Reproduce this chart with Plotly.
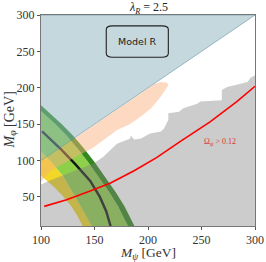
import plotly.graph_objects as go

# ---------------- data ----------------
# blue region: M_phi > M_psi
blue_x = [100, 300, 300, 100]
blue_y = [100, 300, 300, 300]

# peach band just below diagonal
peach_top_x = [100, 150, 200, 206, 212, 218]
peach_top_y = [99, 149, 199, 205, 208, 207]
peach_bot_x = [219, 216, 211, 203, 193, 183, 171, 160, 148, 130, 120, 110, 104, 100]
peach_bot_y = [203, 196, 186, 172, 160, 150, 142, 130, 117, 103, 95, 87, 78, 70]

# gray excluded region (upper boundary)
gray_x = [95, 100, 109, 121, 137, 149, 158, 171, 183, 184, 187, 193, 202, 212, 215, 219, 219,
          229, 233, 246, 249, 263, 269, 269, 274, 280, 288, 293, 296, 300, 305]
gray_y = [66, 67, 73, 80, 90, 96, 105, 123, 130, 134, 129, 130, 137, 140, 144, 156, 165,
          167, 172, 178, 181, 182, 183, 197, 201, 203, 206, 208, 214, 217, 218]

# yellow band edges
r1_x = [96, 100, 106, 112, 120, 128, 134, 139, 141]
r1_y = [84, 79, 72, 64, 52, 38, 24, 10, 4]
r2_x = [96, 100, 110, 121, 130, 139, 148, 150]
r2_y = [119, 113, 97, 78, 55, 32, 10, 4]
# green band outer edge (inner & outer side of dark strip)
r3in_x = [94, 104, 114, 124, 134, 144, 154, 164, 172, 178, 182, 183]
r3in_y = [176, 163, 149, 134, 117, 98, 77, 56, 37, 20, 8, 2]
r3_x = [100, 110, 120, 130, 140, 150, 160, 170, 178, 184, 188, 189]
r3_y = [176, 163, 149, 134, 117, 98, 77, 56, 37, 20, 8, 2]

# central (black) line
blk_x = [101, 110, 119, 132, 146, 155, 161, 165, 166]
blk_y = [140, 128, 115, 95, 72, 50, 30, 10, 4]

# relic density line
red_x = [103, 124, 146, 165, 187, 208, 231, 245, 258, 283, 300]
red_y = [37, 46, 58, 69, 86, 104, 127, 140, 153, 181, 202]

x_ticks = [100, 150, 200, 250, 300]
y_ticks = [50, 100, 150, 200, 250, 300]

# ---------------- figure ----------------
fig = go.Figure()


def band(xa, ya, xb, yb, color):
    fig.add_trace(go.Scatter(x=xa + xb[::-1], y=ya + yb[::-1], fill="toself",
                             fillcolor=color, mode="lines", line=dict(width=0),
                             hoverinfo="skip", showlegend=False))


band(r1_x, r1_y, r2_x, r2_y, "rgb(240,215,40)")
band(r2_x, r2_y, r3in_x, r3in_y, "rgb(143,208,75)")
band(r3in_x, r3in_y, r3_x, r3_y, "rgb(50,135,30)")

fig.add_trace(go.Scatter(x=blk_x, y=blk_y, mode="lines",
                         line=dict(color="#161616", width=2.4),
                         hoverinfo="skip", showlegend=False))

# gray region
fig.add_trace(go.Scatter(x=gray_x + [305, 95], y=gray_y + [0, 0], fill="toself",
                         fillcolor="rgba(127,127,127,0.4)", mode="lines",
                         line=dict(width=0), hoverinfo="skip", showlegend=False))
# peach
fig.add_trace(go.Scatter(x=peach_top_x + peach_bot_x, y=peach_top_y + peach_bot_y,
                         fill="toself", fillcolor="rgba(251,175,125,0.48)",
                         mode="lines", line=dict(width=0),
                         hoverinfo="skip", showlegend=False))
# blue
fig.add_trace(go.Scatter(x=blue_x, y=blue_y, fill="toself",
                         fillcolor="rgba(139,177,189,0.5)", mode="lines",
                         line=dict(color="rgba(120,160,175,0.9)", width=0.8),
                         hoverinfo="skip", showlegend=False))

# red relic line
fig.add_trace(go.Scatter(x=red_x, y=red_y, mode="lines",
                         line=dict(color="#ff0000", width=1.6),
                         hoverinfo="skip", showlegend=False))

serif = "Liberation Serif"

fig.add_annotation(x=267, y=125, xref="x", yref="y",
                   text="Ω<sub><i>ψ</i></sub> > 0.12", showarrow=False,
                   font=dict(family=serif, size=8, color="#e03030"))

fig.add_annotation(x=190, y=264, xref="x", yref="y", text="Model R", showarrow=False,
                   font=dict(family="DejaVu Sans", size=9.5, color="#222"))
# rounded box around "Model R"
x0, x1, y0, y1, rx, ry = 161, 219, 242, 285, 6, 5
fig.add_shape(type="path", xref="x", yref="y",
              path=(f"M {x0+rx},{y0} L {x1-rx},{y0} Q {x1},{y0} {x1},{y0+ry} "
                    f"L {x1},{y1-ry} Q {x1},{y1} {x1-rx},{y1} L {x0+rx},{y1} "
                    f"Q {x0},{y1} {x0},{y1-ry} L {x0},{y0+ry} Q {x0},{y0} {x0+rx},{y0} Z"),
              line=dict(color="#222", width=1.1), fillcolor="rgba(0,0,0,0)")

fig.add_annotation(x=0.5, y=1.0, xref="paper", yref="paper", yanchor="bottom",
                   text="<i>λ</i><sub><i>R</i></sub> = 2.5", showarrow=False,
                   font=dict(family=serif, size=12, color="#222"), yshift=-3)

# axis titles as annotations
fig.add_annotation(x=0.5, y=0, xref="paper", yref="paper", yanchor="top",
                   text="<i>M</i><sub><i>ψ</i></sub> [GeV]", showarrow=False,
                   font=dict(family=serif, size=13.5, color="#333"), yshift=-17)
fig.add_annotation(x=0, y=0.5, xref="paper", yref="paper", xanchor="center",
                   yanchor="middle", textangle=-90,
                   text="<i>M</i><sub><i>φ</i></sub> [GeV]", showarrow=False,
                   font=dict(family=serif, size=14, color="#333"), xshift=-31)

axis_common = dict(showgrid=False, zeroline=False, showline=True, mirror=True,
                   linecolor="#777", linewidth=1, ticks="outside", ticklen=3,
                   tickcolor="#555", automargin=False,
                   tickfont=dict(family=serif, size=12, color="#333"))

fig.update_xaxes(range=[100, 300], tickvals=x_ticks, **axis_common)
fig.update_yaxes(range=[10, 300], tickvals=y_ticks, **axis_common)

fig.update_layout(width=266, height=262, margin=dict(l=41, r=11, t=15, b=36),
                  paper_bgcolor="white", plot_bgcolor="white", showlegend=False)

# remove the browser's default 8px body margin so the figure fills the window
fig.write_html("out.html", config={"displayModeBar": False},
               post_script="document.body.style.margin='0';")
